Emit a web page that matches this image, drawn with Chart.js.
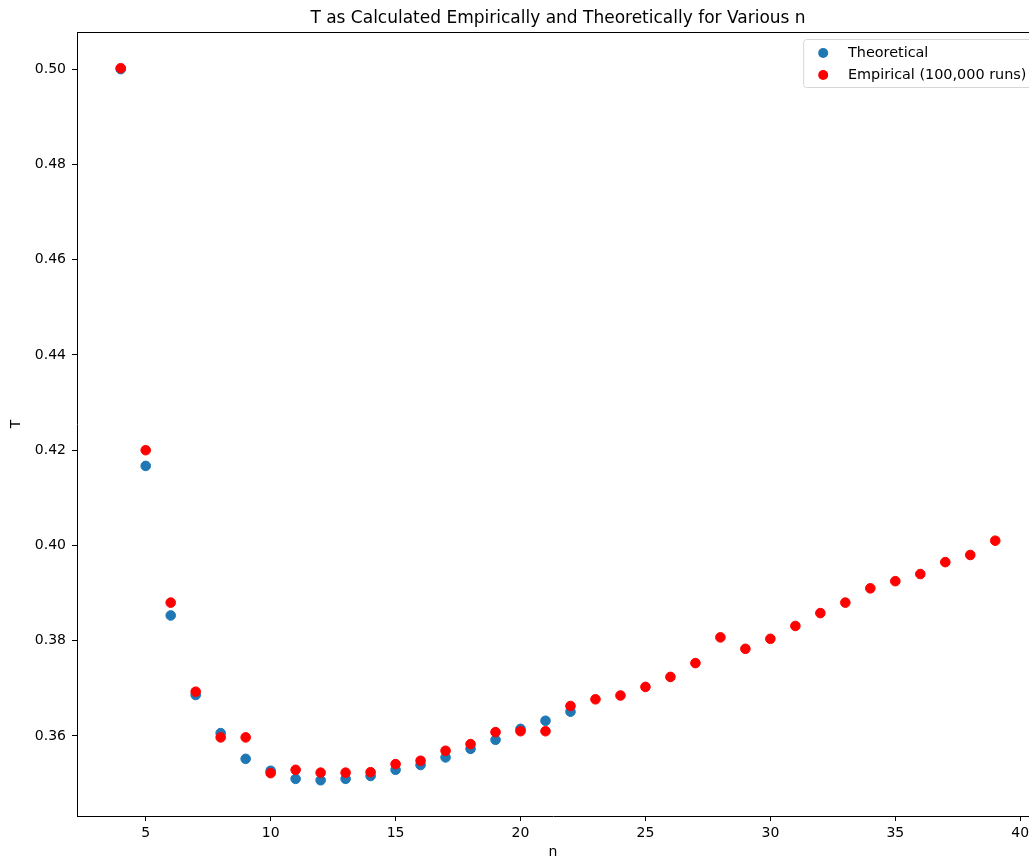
<!DOCTYPE html>
<html lang="en">
<head>
    <meta charset="UTF-8">
    <title>T as Calculated Empirically and Theoretically for Various n</title>
    <script src="https://cdn.jsdelivr.net/npm/chart.js@4.4.3/dist/chart.umd.min.js"></script>
    <style>
        html, body {
            margin: 0;
            padding: 0;
            background: #fff;
            overflow: hidden;
        }
        #tChart {
            width: 1029px;
            height: 861px;
        }
    </style>
</head>
<body>
    <canvas id="tChart" width="1029" height="861"></canvas>

    <script>
        // Theoretical values (n = 4..22)
        const theoN = [4, 5, 6, 7, 8, 9, 10, 11, 12, 13, 14, 15, 16, 17, 18, 19, 20, 21, 22];
        const theoT = [0.5000, 0.4167, 0.3853, 0.3686, 0.3606, 0.3552, 0.3527, 0.3510, 0.3507, 0.3510,
                       0.3516, 0.3529, 0.3539, 0.3555, 0.3573, 0.3592, 0.3615, 0.3632, 0.3651];

        // Empirical values from 100,000 runs (n = 4..39)
        const empN = [4, 5, 6, 7, 8, 9, 10, 11, 12, 13, 14, 15, 16, 17, 18, 19, 20, 21,
                      22, 23, 24, 25, 26, 27, 28, 29, 30, 31, 32, 33, 34, 35, 36, 37, 38, 39];
        const empT = [0.5002, 0.4200, 0.3880, 0.3693, 0.3597, 0.3597, 0.3522, 0.3529, 0.3523, 0.3523,
                      0.3524, 0.3541, 0.3548, 0.3569, 0.3583, 0.3608, 0.3610, 0.3610, 0.3663, 0.3677,
                      0.3685, 0.3703, 0.3724, 0.3753, 0.3807, 0.3783, 0.3804, 0.3831, 0.3858, 0.3880,
                      0.3910, 0.3925, 0.3940, 0.3965, 0.3980, 0.4010];

        const xTicks = [5, 10, 15, 20, 25, 30, 35, 40];
        const yTicks = [0.36, 0.38, 0.40, 0.42, 0.44, 0.46, 0.48, 0.50];
        // the original figure is cropped on the right, so x stops at 40.35 instead of 40.75
        const xRange = [2.25, 40.35];
        const yRange = [0.3432, 0.5078];
        const cropped = 10; // px of the axes cut off at the right edge

        const titleText = 'T as Calculated Empirically and Theoretically for Various n';
        const FONT = '"DejaVu Sans", Arial, sans-serif';

        // top spine, title and the boxed legend inside the axes
        const extras = {
            id: 'extras',
            afterDraw(chart) {
                const ctx = chart.ctx;
                const a = chart.chartArea;
                const fullRight = a.right + cropped;
                ctx.save();

                ctx.strokeStyle = '#000';
                ctx.lineWidth = 1;
                ctx.beginPath();
                ctx.moveTo(a.left, a.top + 0.5);
                ctx.lineTo(a.right, a.top + 0.5);
                ctx.stroke();

                ctx.fillStyle = '#000';
                ctx.font = '17px ' + FONT;
                ctx.textAlign = 'center';
                ctx.textBaseline = 'alphabetic';
                ctx.fillText(titleText, (a.left + fullRight) / 2, 23);

                // legend
                ctx.font = '14.4px ' + FONT;
                const sets = chart.data.datasets;
                const textW = Math.max(...sets.map(d => ctx.measureText(d.label).width));
                const boxW = 5.6 + 28 + 11.2 + textW + 5.6;
                const right = fullRight - 7;
                const top = a.top + 7;
                const left = right - boxW;
                ctx.beginPath();
                ctx.roundRect(left + 0.5, top + 0.5, boxW, 48, 3);
                ctx.fillStyle = 'rgba(255,255,255,0.8)';
                ctx.fill();
                ctx.strokeStyle = '#d6d6d6';
                ctx.stroke();

                sets.forEach((d, i) => {
                    const cy = top + 14 + i * 22;
                    ctx.beginPath();
                    ctx.arc(left + 20, cy, 5, 0, Math.PI * 2);
                    ctx.fillStyle = d.backgroundColor;
                    ctx.fill();
                    ctx.fillStyle = '#000';
                    ctx.textAlign = 'left';
                    ctx.textBaseline = 'middle';
                    ctx.fillText(d.label, left + 44.8, cy);
                });
                ctx.restore();
            }
        };

        const tickFont = { family: FONT, size: 14 };

        new Chart(document.getElementById('tChart'), {
            type: 'scatter',
            data: {
                datasets: [
                    {
                        label: 'Theoretical',
                        data: theoN.map((n, i) => ({ x: n, y: theoT[i] })),
                        backgroundColor: '#1f77b4',
                        borderColor: '#1f77b4',
                        pointRadius: 4.8,
                        pointBorderWidth: 1,
                        order: 1
                    },
                    {
                        label: 'Empirical (100,000 runs)',
                        data: empN.map((n, i) => ({ x: n, y: empT[i] })),
                        backgroundColor: '#ff0000',
                        borderColor: '#ff0000',
                        pointRadius: 4.8,
                        pointBorderWidth: 1,
                        order: 0
                    }
                ]
            },
            options: {
                responsive: false,
                animation: false,
                layout: { autoPadding: false, padding: { top: 32, right: 0, left: 0, bottom: 0 } },
                plugins: {
                    legend: { display: false },
                    title: { display: false },
                    tooltip: { enabled: false }
                },
                scales: {
                    x: {
                        type: 'linear',
                        min: xRange[0],
                        max: xRange[1],
                        afterBuildTicks: s => { s.ticks = xTicks.map(v => ({ value: v })); },
                        afterFit: s => { s.height = 45; s.paddingLeft = 0; s.paddingRight = 0; },
                        grid: { drawOnChartArea: false, drawTicks: true, tickLength: 5, color: '#000' },
                        border: { display: true, color: '#000', width: 1 },
                        ticks: { color: '#000', font: tickFont, padding: 4, maxRotation: 0 },
                        title: { display: true, text: 'n', color: '#000', font: tickFont, padding: { top: 0, bottom: 0 } }
                    },
                    y: {
                        type: 'linear',
                        min: yRange[0],
                        max: yRange[1],
                        afterBuildTicks: s => { s.ticks = yTicks.map(v => ({ value: v })); },
                        afterFit: s => { s.width = 77; s.paddingTop = 0; s.paddingBottom = 0; },
                        grid: { drawOnChartArea: false, drawTicks: true, tickLength: 5, color: '#000' },
                        border: { display: true, color: '#000', width: 1 },
                        ticks: { color: '#000', font: tickFont, padding: 6, callback: v => v.toFixed(2) },
                        title: { display: true, text: 'T', color: '#000', font: tickFont, padding: { top: 8, bottom: 0 } }
                    }
                }
            },
            plugins: [extras]
        });
    </script>
</body>
</html>
